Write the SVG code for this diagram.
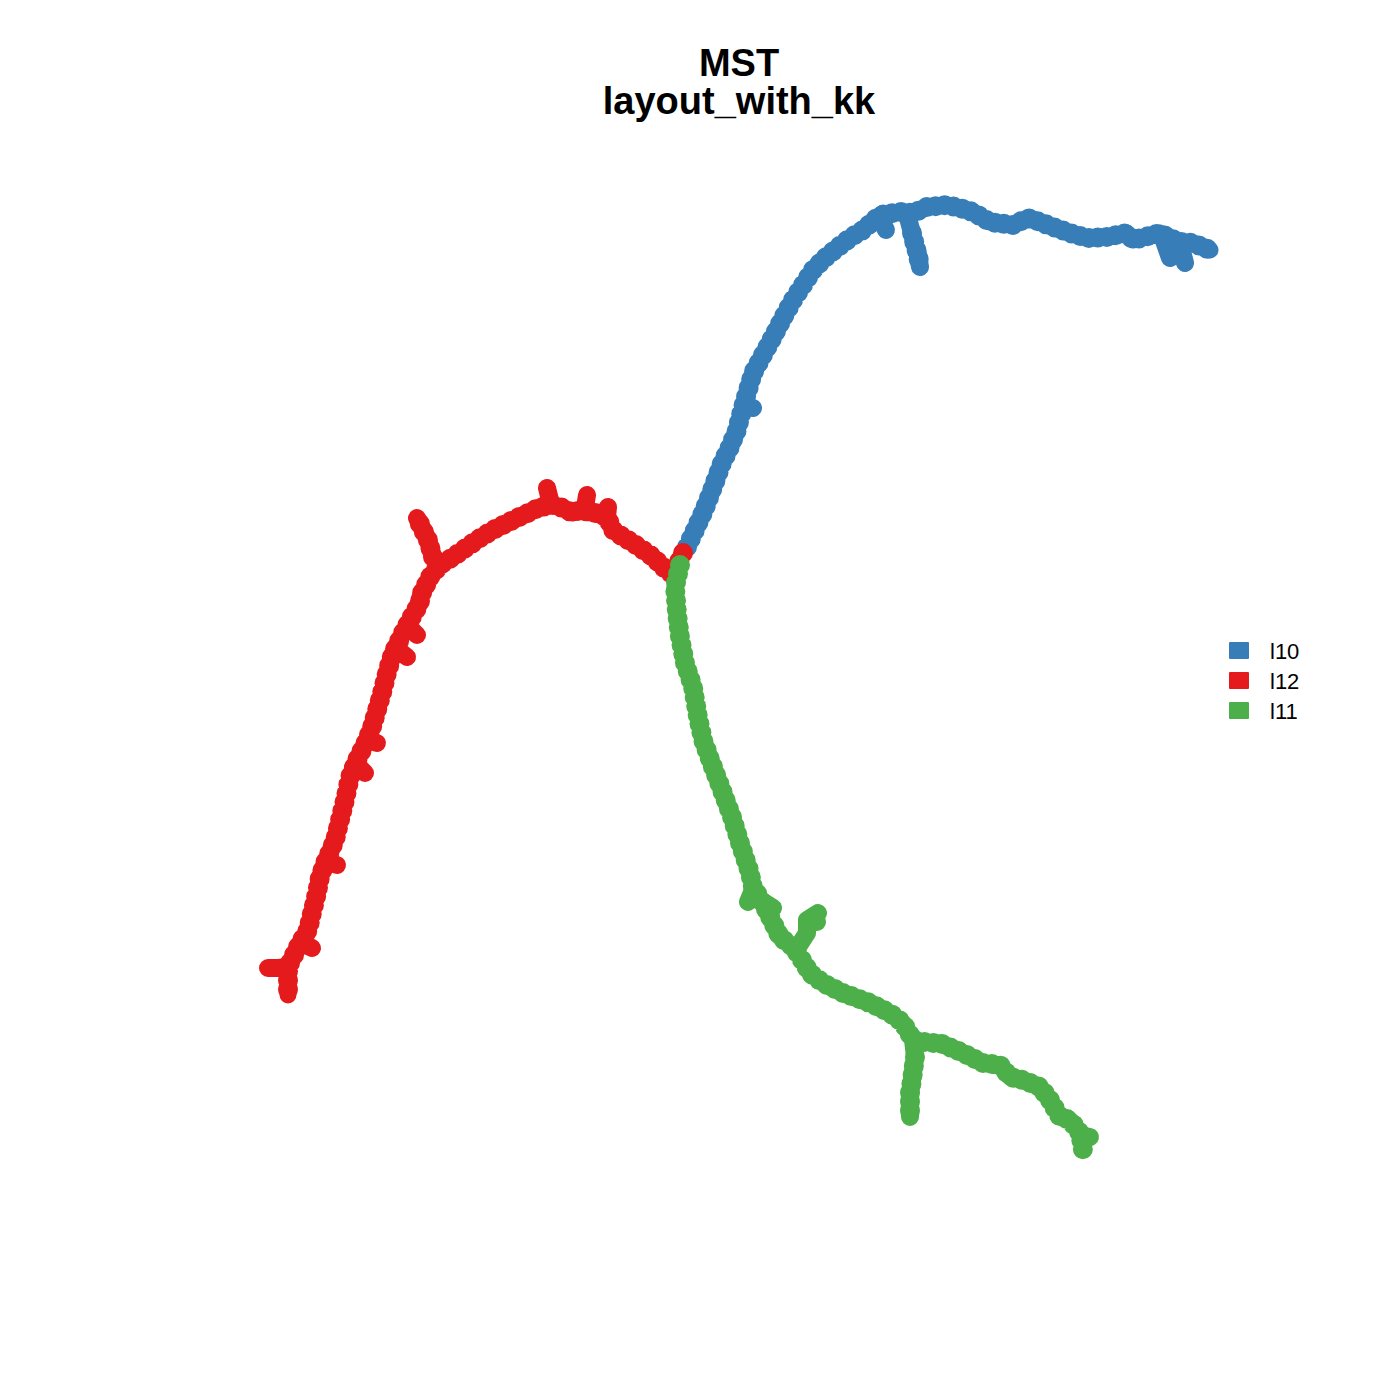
<svg xmlns="http://www.w3.org/2000/svg" xmlns:xlink="http://www.w3.org/1999/xlink" width="1400" height="1400" viewBox="0 0 1400 1400">
<style>
.title{font-family:"Liberation Sans",Arial,sans-serif;font-weight:bold;font-size:38px;text-anchor:middle;fill:#000}
.leg{font-family:"Liberation Sans",Arial,sans-serif;font-size:22px;fill:#000}
.e{fill:none;stroke-width:17;stroke-linecap:round;stroke-linejoin:round}
.s{fill:none;stroke-width:18;stroke-linecap:round;stroke-linejoin:round}
.d{fill:none;stroke-width:20;stroke-linecap:round;stroke-dasharray:0 9}
.b{stroke:#377EB8}.r{stroke:#E41A1C}.g{stroke:#4DAF4A}
.bf{fill:#377EB8}.rf{fill:#E41A1C}.gf{fill:#4DAF4A}
</style>
<defs>
<path id="pb" d="M687,547 L703,513 L712,490 L722,463 L730,447 L737,430 L743,407 L748,390 L753,373 L763,355 L773,337 L783,318 L793,300 L803,285 L813,270 L825,258 L837,248 L850,238 L863,230 L880,215 L900,212 L913,213 L927,207 L947,205 L960,208 L973,212 L990,222 L1013,225 L1028,218 L1040,222 L1053,227 L1070,233 L1087,238 L1107,237 L1127,233 L1133,240 L1145,237 L1160,233 L1170,238 L1180,242 L1193,243 L1210,250"/>
<path id="pr" d="M683,553 L673,575 L663,567 L653,557 L643,550 L633,543 L623,537 L613,530 L607,517 L595,513 L580,510 L573,513 L563,508 L553,505 L540,507 L528,513 L517,518 L505,524 L493,530 L480,538 L467,547 L453,557 L440,565 L430,577 L425,587 L420,597 L420,603 L410,620 L403,633 L398,643 L393,653 L387,673 L382,693 L377,710 L372,727 L367,740 L362,750 L357,760 L350,777 L345,800 L340,820 L335,840 L330,852 L325,863 L320,877 L317,893 L312,913 L308,930 L300,943 L293,957 L288,967 L288,983 L288,995"/>
<path id="pg" d="M680,565 L675,587 L677,613 L680,637 L685,663 L693,687 L698,717 L703,740 L713,767 L723,793 L732,817 L740,843 L750,873 L753,887 L760,898 L770,917 L780,937 L793,947 L802,960 L810,973 L823,983 L843,993 L870,1003 L890,1013 L903,1023 L913,1040 L930,1043 L940,1043 L963,1053 L983,1063 L1000,1065 L1010,1077 L1023,1080 L1040,1087 L1050,1100 L1060,1117 L1070,1120 L1080,1133 L1083,1150"/>
</defs>
<rect width="1400" height="1400" fill="#fff"/>
<text class="title" x="739" y="76">MST</text>
<text class="title" x="739" y="114">layout_with_kk</text>
<g id="connectors">
<g id="l10">
<use xlink:href="#pb" class="e b"/>
<use xlink:href="#pb" class="d b"/>
<path class="s b" d="M908,218 L912,233 L915,245 L918,255 L920,267"/>
<path class="d b" d="M912,233 L915,245 L918,255 L920,267"/>
<path class="s b" d="M1163,238 L1170,258"/>
<path class="s b" d="M1180,243 L1185,263"/>
<path class="s b" d="M880,218 L886,230"/>
<path class="s b" d="M745,406 L753,408"/>
</g>
<g id="l12">
<use xlink:href="#pr" class="e r"/>
<use xlink:href="#pr" class="d r"/>
<path class="s r" d="M288,967 L278,968 L268,968"/>
<path class="s r" d="M440,565 L433,557 L428,540 L423,530 L417,518"/>
<path class="d r" d="M433,557 L428,540 L423,530 L417,518"/>
<path class="s r" d="M550,500 L547,488"/>
<path class="s r" d="M585,508 L587,495"/>
<path class="s r" d="M607,517 L608,507"/>
<path class="s r" d="M410,628 L417,635"/>
<path class="s r" d="M398,650 L407,657"/>
<path class="s r" d="M368,740 L377,743"/>
<path class="s r" d="M357,765 L365,773"/>
<path class="s r" d="M327,862 L337,865"/>
<path class="s r" d="M302,943 L312,948"/>
</g>
<g id="l11">
<use xlink:href="#pg" class="e g"/>
<use xlink:href="#pg" class="d g"/>
<path class="s g" d="M913,1040 L915,1057 L912,1080 L910,1093 L910,1117"/>
<path class="d g" d="M915,1057 L912,1080 L910,1093 L910,1117"/>
<path class="s g" d="M798,947 L807,933 L807,920 L818,913"/>
<path class="s g" d="M807,922 L817,922"/>
<path class="s g" d="M753,890 L748,902"/>
<path class="s g" d="M765,903 L773,908"/>
<path class="s g" d="M1080,1135 L1090,1137"/>
</g>
</g>
<g id="legend">
<rect x="1229" y="642" width="20" height="17" rx="1" class="bf"/>
<rect x="1229" y="672" width="20" height="17" rx="1" class="rf"/>
<rect x="1229" y="702" width="20" height="17" rx="1" class="gf"/>
<text class="leg" x="1270" y="659">l10</text>
<text class="leg" x="1270" y="689">l12</text>
<text class="leg" x="1270" y="719">l11</text>
</g>
</svg>
